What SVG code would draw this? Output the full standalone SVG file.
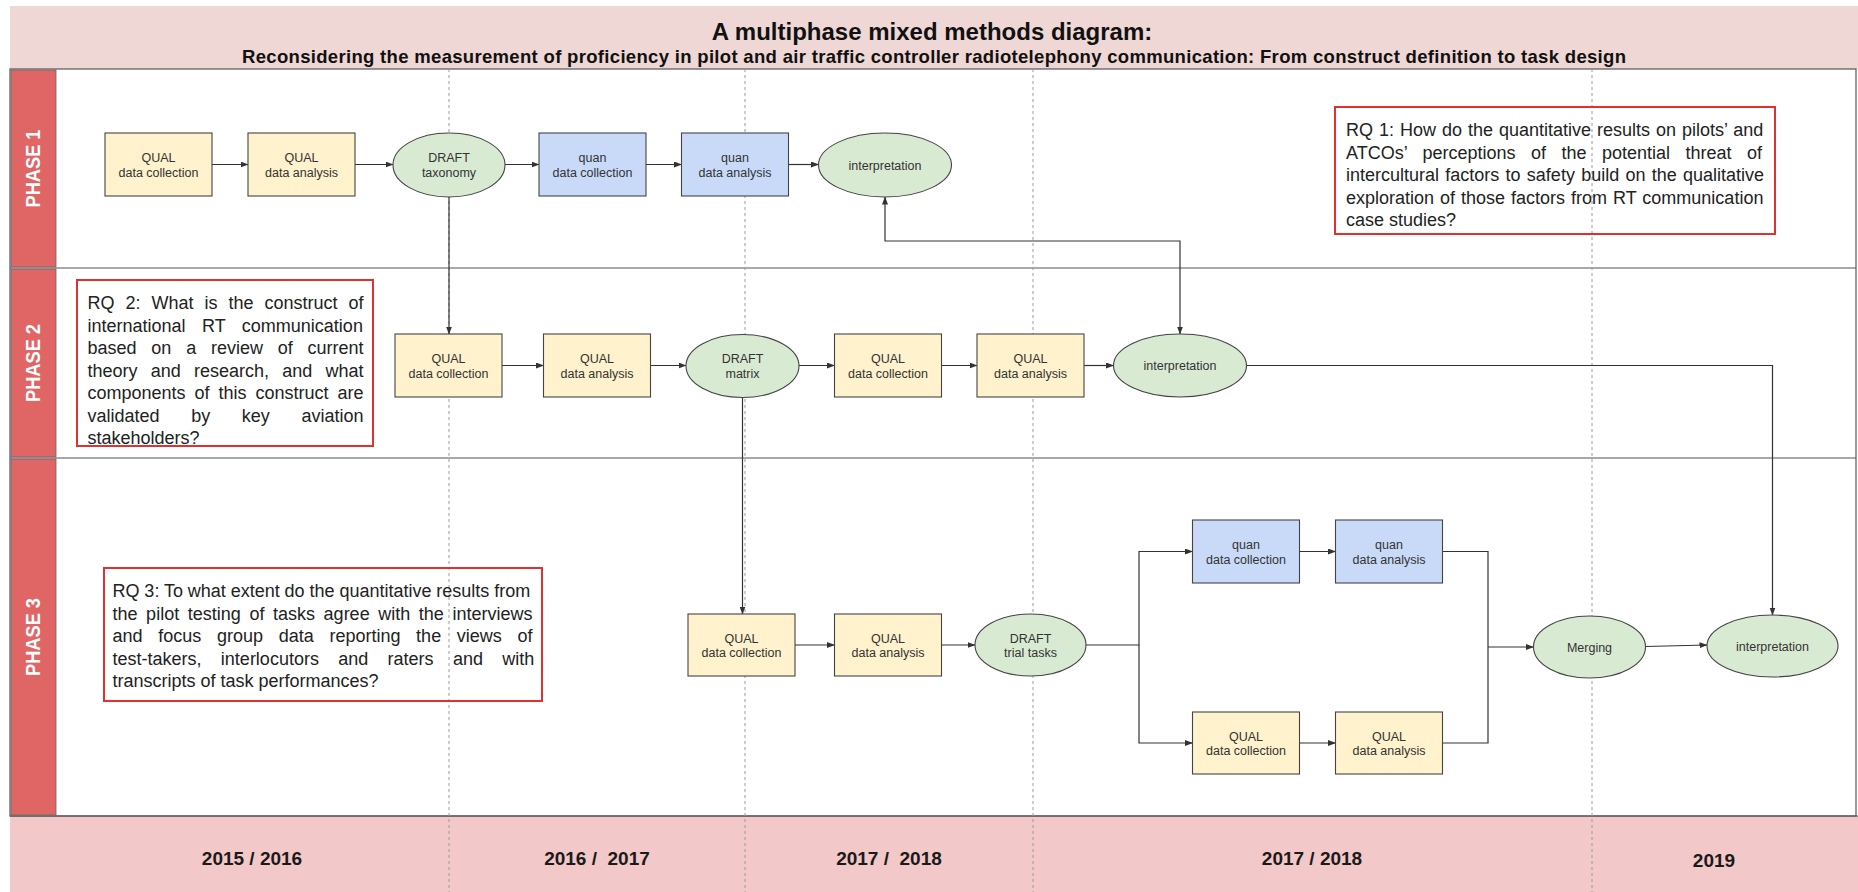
<svg xmlns="http://www.w3.org/2000/svg" width="1858" height="892" viewBox="0 0 1858 892">
<style>
.frame{fill:none;stroke:#555;stroke-width:1.2}
.phase{fill:#e06666;stroke:#666;stroke-width:0.8}
.pl{font-family:"Liberation Sans",Arial,sans-serif;font-weight:bold;font-size:20px;fill:#fff;text-anchor:middle}
.dash{stroke:#9a9a9a;stroke-width:1;stroke-dasharray:3 3;fill:none}
.qual{fill:#fff2cc;stroke:#444;stroke-width:1.1}
.quan{fill:#c9daf8;stroke:#444;stroke-width:1.1}
.ell{fill:#d9ead3;stroke:#444;stroke-width:1.1}
.nt{font-family:"Liberation Sans",Arial,sans-serif;font-size:12.5px;fill:#333;text-anchor:middle}
.con{fill:none;stroke:#333;stroke-width:1.2}
.rqbox{fill:none;stroke:#e03030;stroke-width:2}
.rq{font-family:"Liberation Sans",Arial,sans-serif;font-size:18px;fill:#222}
.yr{font-family:"Liberation Sans",Arial,sans-serif;font-weight:bold;font-size:19px;fill:#1a1a1a;text-anchor:middle;white-space:pre}
</style>
<defs>
<marker id="ah" markerWidth="8" markerHeight="6" refX="7.5" refY="3" orient="auto" markerUnits="userSpaceOnUse">
<path d="M0,0 L8,3 L0,6 Z" fill="#333"/>
</marker>
<marker id="ahs" markerWidth="8" markerHeight="6" refX="0.5" refY="3" orient="auto" markerUnits="userSpaceOnUse">
<path d="M8,0 L0,3 L8,6 Z" fill="#333"/>
</marker>
</defs>
<rect x="0" y="0" width="1858" height="892" fill="#fff"/>
<!-- header -->
<g id="header">
<rect x="10" y="6" width="1848" height="63" fill="#efd7d5"/>
<text x="932" y="40" font-family="Liberation Sans, Arial, sans-serif" font-weight="bold" font-size="24" fill="#111" text-anchor="middle">A multiphase mixed methods diagram:</text>
<text x="934" y="63" font-family="Liberation Sans, Arial, sans-serif" font-weight="bold" font-size="18.5" fill="#111" text-anchor="middle" textLength="1384" lengthAdjust="spacing">Reconsidering the measurement of proficiency in pilot and air traffic controller radiotelephony communication: From construct definition to task design</text>
</g>
<!-- footer -->
<g id="footer">
<rect x="10" y="816" width="1848" height="76" fill="#f3c8c8"/>
<line x1="10" y1="816" x2="1858" y2="816" stroke="#555" stroke-width="1.2"/>
<text class="yr" x="252" y="865">2015 / 2016</text>
<text class="yr" x="597" y="865">2016 /  2017</text>
<text class="yr" x="889" y="865">2017 /  2018</text>
<text class="yr" x="1312" y="865">2017 / 2018</text>
<text class="yr" x="1714" y="867">2019</text>
</g>
<!-- swimlanes -->
<g id="lanes">
<rect class="frame" x="10" y="69" width="1846" height="747"/>
<line x1="10" y1="268" x2="1856" y2="268" stroke="#555" stroke-width="1.2"/>
<line x1="10" y1="458" x2="1856" y2="458" stroke="#555" stroke-width="1.2"/>
<rect class="phase" x="11" y="70" width="45" height="197"/>
<rect class="phase" x="11" y="269" width="45" height="188"/>
<rect class="phase" x="11" y="459" width="45" height="356"/>
<text class="pl" transform="translate(40,168.5) rotate(-90)" textLength="78" lengthAdjust="spacingAndGlyphs">PHASE 1</text>
<text class="pl" transform="translate(40,363) rotate(-90)" textLength="78" lengthAdjust="spacingAndGlyphs">PHASE 2</text>
<text class="pl" transform="translate(40,637) rotate(-90)" textLength="78" lengthAdjust="spacingAndGlyphs">PHASE 3</text>
</g>
<!-- time dividers -->
<g id="dividers">
<line class="dash" x1="449" y1="69" x2="449" y2="892"/>
<line class="dash" x1="745" y1="69" x2="745" y2="892"/>
<line class="dash" x1="1033" y1="69" x2="1033" y2="892"/>
<line class="dash" x1="1592" y1="69" x2="1592" y2="892"/>
</g>
<!-- research questions -->
<g id="rq1">
<rect class="rqbox" x="1335" y="107" width="440" height="127"/>
<text class="rq" x="1346" y="136" word-spacing="0.98">RQ 1: How do the quantitative results on pilots’ and</text>
<text class="rq" x="1346" y="158.5" word-spacing="10.47">ATCOs’ perceptions of the potential threat of</text>
<text class="rq" x="1346" y="181" word-spacing="1.26">intercultural factors to safety build on the qualitative</text>
<text class="rq" x="1346" y="203.5" word-spacing="0.98">exploration of those factors from RT communication</text>
<text class="rq" x="1346" y="226">case studies?</text>
</g>
<g id="rq2">
<rect class="rqbox" x="77" y="280" width="296" height="166"/>
<text class="rq" x="87.5" y="309" word-spacing="5.98">RQ 2: What is the construct of</text>
<text class="rq" x="87.5" y="331.5" word-spacing="11.46">international RT communication</text>
<text class="rq" x="87.5" y="354" word-spacing="9.78">based on a review of current</text>
<text class="rq" x="87.5" y="376.5" word-spacing="8.22">theory and research, and what</text>
<text class="rq" x="87.5" y="399" word-spacing="3.97">components of this construct are</text>
<text class="rq" x="87.5" y="421.5" word-spacing="26.64">validated by key aviation</text>
<text class="rq" x="87.5" y="444">stakeholders?</text>
</g>
<g id="rq3">
<rect class="rqbox" x="104" y="568" width="438" height="133"/>
<text class="rq" x="112.5" y="597" word-spacing="-0.13">RQ 3: To what extent do the quantitative results from</text>
<text class="rq" x="112.5" y="619.5" word-spacing="3.6">the pilot testing of tasks agree with the interviews</text>
<text class="rq" x="112.5" y="642" word-spacing="10.69">and focus group data reporting the views of</text>
<text class="rq" x="112.5" y="664.5" word-spacing="14.33">test-takers, interlocutors and raters and with</text>
<text class="rq" x="112.5" y="687">transcripts of task performances?</text>
</g>
<!-- connectors -->
<g id="connectors">
<path class="con" marker-end="url(#ah)" d="M212,164.5 H248"/>
<path class="con" marker-end="url(#ah)" d="M355,164.5 H393"/>
<path class="con" marker-end="url(#ah)" d="M505,164.5 H539"/>
<path class="con" marker-end="url(#ah)" d="M646,164.5 H681.5"/>
<path class="con" marker-end="url(#ah)" d="M788.5,164.5 H818.5"/>
<path class="con" marker-end="url(#ah)" d="M449,197 V334"/>
<path class="con" marker-start="url(#ahs)" marker-end="url(#ah)" d="M885,197 V241 H1180 V334"/>
<path class="con" marker-end="url(#ah)" d="M502,365.5 H543.5"/>
<path class="con" marker-end="url(#ah)" d="M650.5,365.5 H686"/>
<path class="con" marker-end="url(#ah)" d="M799,365.5 H834.5"/>
<path class="con" marker-end="url(#ah)" d="M941.5,365.5 H977"/>
<path class="con" marker-end="url(#ah)" d="M1084,365.5 H1113.5"/>
<path class="con" marker-end="url(#ah)" d="M1246.5,365.5 H1772.5 V615"/>
<path class="con" marker-end="url(#ah)" d="M742.5,397.5 V614"/>
<path class="con" marker-end="url(#ah)" d="M795,645 H834.5"/>
<path class="con" marker-end="url(#ah)" d="M941.5,645 H975"/>
<path class="con" marker-end="url(#ah)" d="M1086,645 H1139 V551.5 H1192.5"/>
<path class="con" marker-end="url(#ah)" d="M1139,645 V743 H1192.5"/>
<path class="con" marker-end="url(#ah)" d="M1299.5,551.5 H1335.5"/>
<path class="con" marker-end="url(#ah)" d="M1299.5,743 H1335.5"/>
<path class="con" d="M1442.5,551.5 H1488 V743 H1442.5"/>
<path class="con" marker-end="url(#ah)" d="M1488,647 H1533.5"/>
<path class="con" marker-end="url(#ah)" d="M1645.5,646.5 L1707,645"/>
</g>
<!-- phase 1 nodes -->
<g id="p1-qual-collection"><rect class="qual" x="105" y="133" width="107" height="63"/><text class="nt" x="158.5" y="162">QUAL</text><text class="nt" x="158.5" y="176.5">data collection</text></g>
<g id="p1-qual-analysis"><rect class="qual" x="248" y="133" width="107" height="63"/><text class="nt" x="301.5" y="162">QUAL</text><text class="nt" x="301.5" y="176.5">data analysis</text></g>
<g id="p1-draft-taxonomy"><ellipse class="ell" cx="449" cy="165" rx="56" ry="32"/><text class="nt" x="449" y="162">DRAFT</text><text class="nt" x="449" y="176.5">taxonomy</text></g>
<g id="p1-quan-collection"><rect class="quan" x="539" y="133" width="107" height="63"/><text class="nt" x="592.5" y="162">quan</text><text class="nt" x="592.5" y="176.5">data collection</text></g>
<g id="p1-quan-analysis"><rect class="quan" x="681.5" y="133" width="107" height="63"/><text class="nt" x="735" y="162">quan</text><text class="nt" x="735" y="176.5">data analysis</text></g>
<g id="p1-interpretation"><ellipse class="ell" cx="885" cy="165" rx="66.5" ry="32"/><text class="nt" x="885" y="169.5">interpretation</text></g>
<!-- phase 2 nodes -->
<g id="p2-qual-collection-1"><rect class="qual" x="395" y="334" width="107" height="63"/><text class="nt" x="448.5" y="363">QUAL</text><text class="nt" x="448.5" y="377.5">data collection</text></g>
<g id="p2-qual-analysis-1"><rect class="qual" x="543.5" y="334" width="107" height="63"/><text class="nt" x="597" y="363">QUAL</text><text class="nt" x="597" y="377.5">data analysis</text></g>
<g id="p2-draft-matrix"><ellipse class="ell" cx="742.5" cy="366" rx="56.5" ry="31.5"/><text class="nt" x="742.5" y="363">DRAFT</text><text class="nt" x="742.5" y="377.5">matrix</text></g>
<g id="p2-qual-collection-2"><rect class="qual" x="834.5" y="334" width="107" height="63"/><text class="nt" x="888" y="363">QUAL</text><text class="nt" x="888" y="377.5">data collection</text></g>
<g id="p2-qual-analysis-2"><rect class="qual" x="977" y="334" width="107" height="63"/><text class="nt" x="1030.5" y="363">QUAL</text><text class="nt" x="1030.5" y="377.5">data analysis</text></g>
<g id="p2-interpretation"><ellipse class="ell" cx="1180" cy="365.5" rx="66.5" ry="31.5"/><text class="nt" x="1180" y="370">interpretation</text></g>
<!-- phase 3 nodes -->
<g id="p3-qual-collection-1"><rect class="qual" x="688" y="614" width="107" height="62"/><text class="nt" x="741.5" y="642.5">QUAL</text><text class="nt" x="741.5" y="657">data collection</text></g>
<g id="p3-qual-analysis-1"><rect class="qual" x="834.5" y="614" width="107" height="62"/><text class="nt" x="888" y="642.5">QUAL</text><text class="nt" x="888" y="657">data analysis</text></g>
<g id="p3-draft-trial-tasks"><ellipse class="ell" cx="1030.5" cy="645" rx="55.5" ry="31"/><text class="nt" x="1030.5" y="642.5">DRAFT</text><text class="nt" x="1030.5" y="657">trial tasks</text></g>
<g id="p3-quan-collection"><rect class="quan" x="1192.5" y="520" width="107" height="63"/><text class="nt" x="1246" y="549">quan</text><text class="nt" x="1246" y="563.5">data collection</text></g>
<g id="p3-quan-analysis"><rect class="quan" x="1335.5" y="520" width="107" height="63"/><text class="nt" x="1389" y="549">quan</text><text class="nt" x="1389" y="563.5">data analysis</text></g>
<g id="p3-qual-collection-2"><rect class="qual" x="1192.5" y="712" width="107" height="62"/><text class="nt" x="1246" y="740.5">QUAL</text><text class="nt" x="1246" y="755">data collection</text></g>
<g id="p3-qual-analysis-2"><rect class="qual" x="1335.5" y="712" width="107" height="62"/><text class="nt" x="1389" y="740.5">QUAL</text><text class="nt" x="1389" y="755">data analysis</text></g>
<g id="p3-merging"><ellipse class="ell" cx="1589.5" cy="647" rx="56" ry="31"/><text class="nt" x="1589.5" y="651.5">Merging</text></g>
<g id="p3-interpretation"><ellipse class="ell" cx="1772.5" cy="646" rx="65.5" ry="31"/><text class="nt" x="1772.5" y="650.5">interpretation</text></g>
</svg>
